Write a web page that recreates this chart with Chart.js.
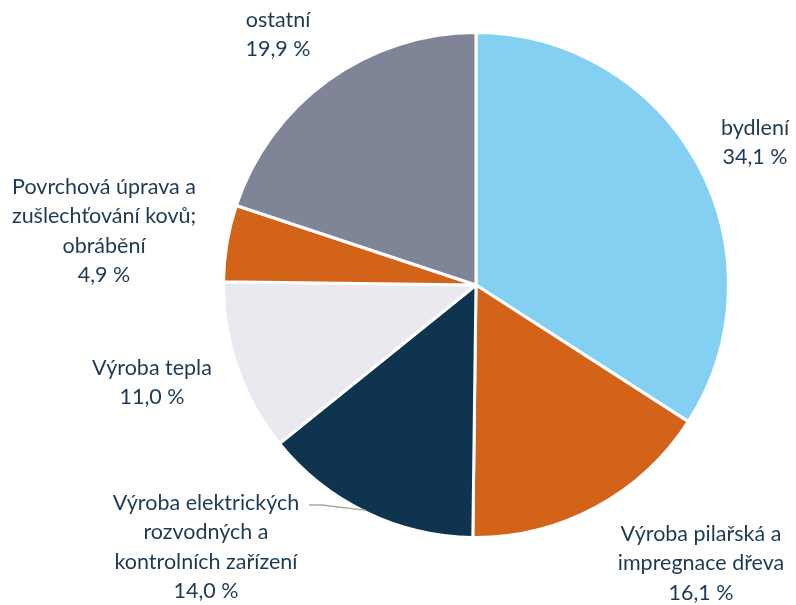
<!DOCTYPE html>
<html>
<head>
<meta charset="utf-8">
<script src="https://cdn.jsdelivr.net/npm/chart.js@4"></script>
<style>
    html, body { margin: 0; padding: 0; background: #ffffff; }
    #pieChart { display: block; }
</style>
</head>
<body>
<canvas id="pieChart" width="796" height="605"></canvas>
<script>
// data
const categories = [
    ['bydlení'],
    ['Výroba pilařská a', 'impregnace dřeva'],
    ['Výroba elektrických', 'rozvodných a', 'kontrolních zařízení'],
    ['Výroba tepla'],
    ['Povrchová úprava a', 'zušlechťování kovů;', 'obrábění'],
    ['ostatní']
];
const shares = [34.1, 16.1, 14.0, 11.0, 4.9, 19.9];
const valueLabels = ['34,1 %', '16,1 %', '14,0 %', '11,0 %', '4,9 %', '19,9 %'];

const sliceColors = ['#84d0f3', '#d4631a', '#0e344f', '#e9e9ef', '#d4631a', '#7f8497'];
// label block centres (x, first line y)
const labelPos = [[755, 128], [701, 534], [206, 503], [152, 368], [104, 187], [278, 20]];

const pieLabels = {
    id: 'pieLabels',
    afterDatasetsDraw(chart) {
        const ctx = chart.ctx;
        const meta = chart.getDatasetMeta(0);
        ctx.save();
        ctx.font = '21.5px Lato, "Liberation Sans", sans-serif';
        ctx.fillStyle = '#1d3a55';
        ctx.textAlign = 'center';
        ctx.textBaseline = 'middle';
        const lh = 29.5;
        categories.forEach((lines, i) => {
            const [x, y] = labelPos[i];
            const all = lines.concat([valueLabels[i]]);
            all.forEach((t, k) => ctx.fillText(t, x, y + k * lh));
        });
        // leader line for the electrical slice
        const arc = meta.data[2];
        const mid = (arc.startAngle + arc.endAngle) / 2;
        const ex = arc.x + Math.cos(mid) * (arc.outerRadius - 2);
        const ey = arc.y + Math.sin(mid) * (arc.outerRadius - 2);
        ctx.strokeStyle = '#a6a6a6';
        ctx.lineWidth = 1.3;
        ctx.beginPath();
        ctx.moveTo(309, 505);
        ctx.lineTo(322, 505);
        ctx.lineTo(ex, ey);
        ctx.stroke();
        ctx.restore();
    }
};

new Chart(document.getElementById('pieChart'), {
    type: 'pie',
    data: {
        labels: categories.map(c => c.join(' ')),
        datasets: [{
            data: shares,
            backgroundColor: sliceColors,
            borderColor: '#ffffff',
            borderWidth: 3,
            hoverOffset: 0
        }]
    },
    options: {
        responsive: false,
        animation: false,
        layout: {
            padding: { left: 222, right: 66, top: 31, bottom: 66 }
        },
        plugins: {
            legend: { display: false },
            tooltip: { enabled: false },
            title: { display: false }
        }
    },
    plugins: [pieLabels]
});
</script>
</body>
</html>
